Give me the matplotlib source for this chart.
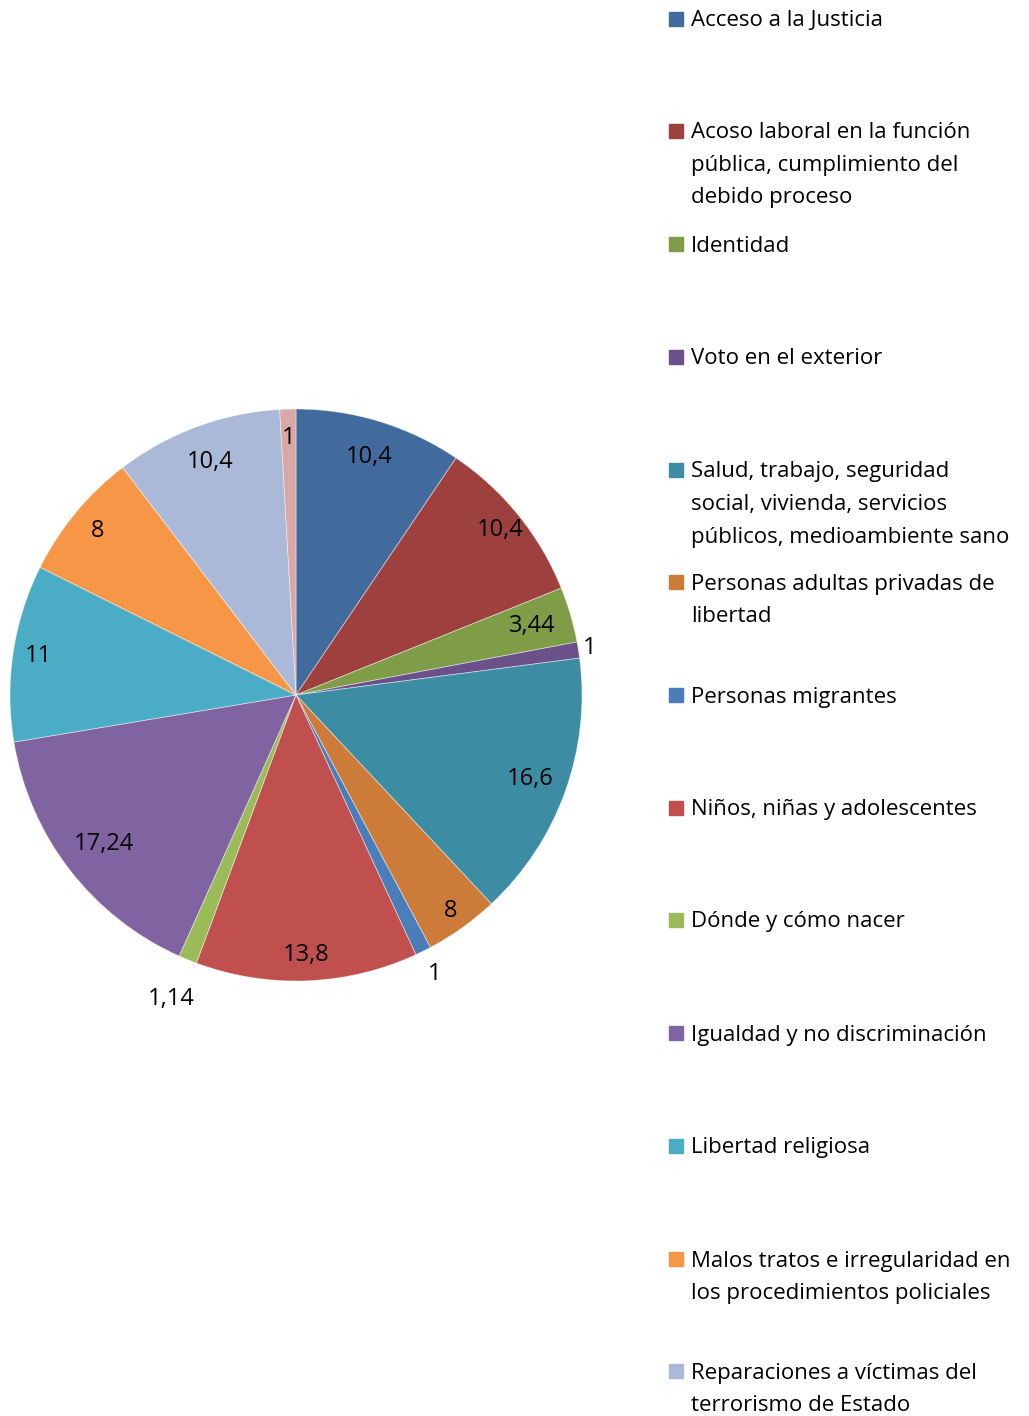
import numpy as np
import matplotlib
matplotlib.use("Agg")
import matplotlib.pyplot as plt
from matplotlib.patches import Rectangle

categories = [
    "Acceso a la Justicia",
    "Acoso laboral en la función\npública, cumplimiento del\ndebido proceso",
    "Identidad",
    "Voto en el exterior",
    "Salud, trabajo, seguridad\nsocial, vivienda, servicios\npúblicos, medioambiente sano",
    "Personas adultas privadas de\nlibertad",
    "Personas migrantes",
    "Niños, niñas y adolescentes",
    "Dónde y cómo nacer",
    "Igualdad y no discriminación",
    "Libertad religiosa",
    "Malos tratos e irregularidad en\nlos procedimientos policiales",
    "Reparaciones a víctimas del\nterrorismo de Estado",
    "Otros",
]
# slice sizes as drawn (the "8" slice of Personas adultas is drawn smaller)
values = [10.4, 10.4, 3.44, 1, 16.6, 4.6, 1, 13.8, 1.14, 17.24, 11, 8, 10.4, 1]
value_labels = ["10,4", "10,4", "3,44", "1", "16,6", "8", "1", "13,8", "1,14",
                "17,24", "11", "8", "10,4", "1"]

colors = ["#416A9D", "#9E413E", "#7F9C47", "#6A518A", "#3C8DA3", "#CC7B38",
          "#4A7EBB", "#C0504D", "#9BBB59", "#8064A2", "#4BACC6", "#F79646",
          "#AAB9D7", "#D9A7A6"]
# label distance from centre (fraction of radius)
label_r = [0.87, 0.92, 0.86, 1.04, 0.87, 0.93, 1.09, 0.91, 1.15, 0.85, 0.91,
           0.90, 0.87, 0.90]

W, H = 1029, 1416
fig = plt.figure(figsize=(W / 100, H / 100), dpi=100)
plt.rcParams['font.family'] = ['Open Sans', 'DejaVu Sans']

cx, cy, R = 296, 695, 286
ax = fig.add_axes([(cx - R) / W, (H - cy - R) / H, 2 * R / W, 2 * R / H])
wedges, _ = ax.pie(values, colors=colors, startangle=90, counterclock=False,
                   radius=1, wedgeprops=dict(linewidth=0.6, edgecolor=(1, 1, 1, 0.5)))
ax.set_xlim(-1, 1)
ax.set_ylim(-1, 1)
ax.axis("off")

for w, lab, r in zip(wedges, value_labels, label_r):
    ang = np.deg2rad((w.theta1 + w.theta2) / 2)
    ax.text(r * np.cos(ang), r * np.sin(ang), lab, ha="center", va="center",
            fontsize=17, color="black")

# legend - only the entries that fit on the page (the last one is cut off)
leg_y = [19, 131, 244, 357, 470, 582, 695, 808, 920, 1033, 1146, 1259, 1371]
line_h = 32.5
for y, name, c in zip(leg_y, categories, colors):
    fig.patches.append(Rectangle((669 / W, 1 - (y + 7) / H), 14 / W, 14 / H,
                                 transform=fig.transFigure, color=c))
    for i, line in enumerate(name.split("\n")):
        fig.text(691 / W, 1 - (y + 7.5 + i * line_h) / H, line, ha="left",
                 va="baseline", fontsize=16, color="black")

fig.savefig("out.png", dpi=100)
